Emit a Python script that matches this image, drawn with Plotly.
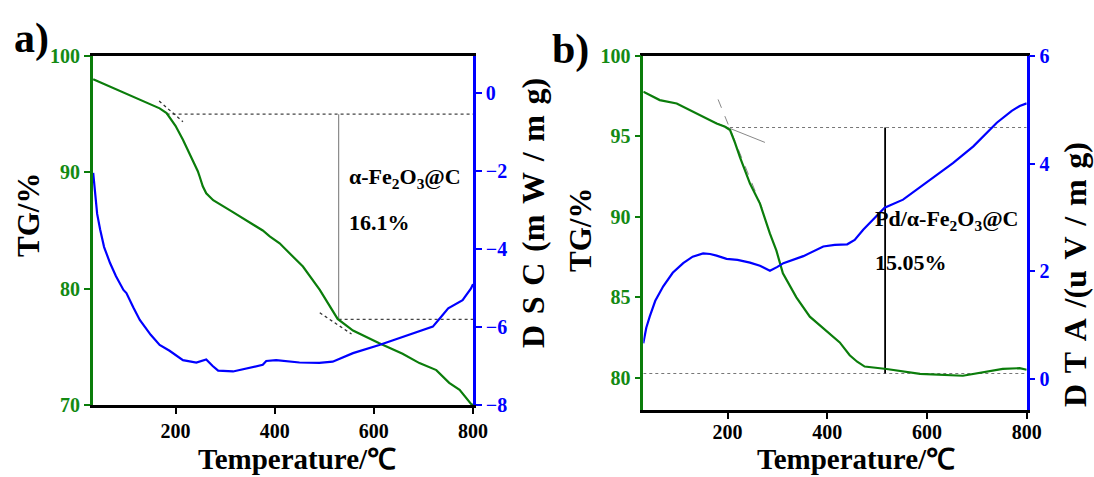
import plotly.graph_objects as go

W, H = 1094, 477
SERIF = "Liberation Serif"
GREEN = "#0b7d0b"
TICK_GREEN = "#138a13"
BLUE = "#0000ff"

# ---------------- panel a) : alpha-Fe2O3@C ----------------
tg_a_temp = [34, 42, 50, 81, 120, 168, 182, 200, 215, 229, 245, 249, 255, 262, 276, 315, 350, 376,
             390, 410, 424, 457, 491, 527, 558, 611, 658, 692, 726, 752, 773, 796, 800]
tg_a_val = [98.0, 97.85, 97.7, 97.1, 96.4, 95.5, 95.1, 94.0, 92.8, 91.6, 90.1, 89.6, 88.8, 88.2,
            87.6, 86.6, 85.7, 85.0, 84.5, 83.9, 83.3, 81.9, 79.9, 77.4, 76.4, 75.3, 74.4, 73.6,
            73.0, 71.9, 71.3, 70.1, 70.0]

dsc_a_temp = [34, 38, 42, 48, 56, 68, 80, 95, 101, 115, 128, 150, 168, 188, 215, 242, 262, 275,
              286, 316, 356, 376, 383, 403, 450, 490, 517, 558, 611, 658, 700, 719, 735, 750,
              779, 796, 800]
dsc_a_val = [-2.05, -2.6, -3.1, -3.5, -3.95, -4.36, -4.7, -5.05, -5.13, -5.5, -5.82, -6.2, -6.46,
             -6.61, -6.85, -6.91, -6.83, -7.0, -7.12, -7.14, -7.02, -6.97, -6.87, -6.85, -6.91,
             -6.92, -6.89, -6.67, -6.46, -6.25, -6.08, -5.99, -5.75, -5.52, -5.31, -5.01, -4.9]

# onset construction (TG %)
onset_hi_a = 95.0
onset_lo_a = 77.36
onset_hi_a_temp = 182
marker_a_temp = 529
tangent_a1_temp = [167, 215]
tangent_a1_val = [96.13, 94.35]
tangent_a2_temp = [491, 555]
tangent_a2_val = [77.93, 76.10]

# ---------------- panel b) : Pd/alpha-Fe2O3@C ----------------
tg_b_temp = [31, 64, 98, 138, 178, 195, 205, 215, 225, 245, 265, 285, 298, 311, 338, 365, 392,
             425, 445, 460, 475, 519, 586, 672, 752, 786, 800]
tg_b_val = [97.78, 97.26, 97.05, 96.43, 95.81, 95.6, 95.4, 94.6, 93.7, 92.07, 90.83, 88.96, 87.9,
            86.5, 85.0, 83.8, 83.1, 82.2, 81.4, 81.0, 80.7, 80.55, 80.24, 80.13, 80.55, 80.6, 80.5]

dta_b_temp = [31, 37, 44, 55, 71, 90, 111, 130, 151, 165, 178, 198, 220, 245, 265, 285, 300, 312,
              352, 392, 415, 440, 455, 472, 492, 515, 552, 606, 652, 693, 740, 770, 786, 800]
dta_b_val = [0.66, 0.95, 1.16, 1.45, 1.72, 1.97, 2.15, 2.27, 2.33, 2.32, 2.29, 2.23, 2.21, 2.16,
             2.10, 2.01, 2.08, 2.15, 2.28, 2.46, 2.49, 2.50, 2.58, 2.77, 2.96, 3.18, 3.33, 3.70,
             4.01, 4.32, 4.76, 4.98, 5.07, 5.12]

onset_hi_b = 95.56
onset_lo_b = 80.27
onset_hi_b_temp = 205
marker_b_temp = 516
tangent_b1_temp = [181, 271]
tangent_b1_val = [97.3, 90.41]
tangent_b2_temp = [170, 275]
tangent_b2_val = [95.93, 94.63]

# axis ranges / ticks
x_range_a = [33, 800]
x_range_b = [31, 800]
tg_range_a = [70, 100]
dsc_range_a = [-8, 0.95]
tg_range_b = [78, 100]
dta_range_b = [-0.58, 6]
x_ticks = [200, 400, 600, 800]
tg_ticks_a = [70, 80, 90, 100]
dsc_ticks_a = [-8, -6, -4, -2, 0]
tg_ticks_b = [80, 85, 90, 95, 100]
dta_ticks_b = [0, 2, 4, 6]

fig = go.Figure()


def line(x, y, xa, ya, color, width=2.2, dash="solid"):
    fig.add_trace(go.Scatter(x=x, y=y, xaxis=xa, yaxis=ya, mode="lines",
                             line=dict(color=color, width=width, dash=dash),
                             showlegend=False, hoverinfo="skip"))


# panel a guides
line([onset_hi_a_temp, 800], [onset_hi_a, onset_hi_a], "x", "y", "#444", 1.1, "dot")
line([marker_a_temp, 800], [onset_lo_a, onset_lo_a], "x", "y", "#444", 1.1, "dot")
line([marker_a_temp, marker_a_temp], [onset_lo_a, onset_hi_a], "x", "y", "#8a8a8a", 1.2)
line(tangent_a1_temp, tangent_a1_val, "x", "y", "#333", 1.3, "dot")
line(tangent_a2_temp, tangent_a2_val, "x", "y", "#333", 1.3, "dot")
# panel a curves
line(tg_a_temp, tg_a_val, "x", "y", GREEN)
line(dsc_a_temp, dsc_a_val, "x", "y2", BLUE)

# panel b guides
line([onset_hi_b_temp, 800], [onset_hi_b, onset_hi_b], "x2", "y3", "#777", 1.1, "dot")
line([x_range_b[0], 800], [onset_lo_b, onset_lo_b], "x2", "y3", "#777", 1.1, "dot")
line(tangent_b1_temp, tangent_b1_val, "x2", "y3", "#888", 1.0, "dash")
line(tangent_b2_temp, tangent_b2_val, "x2", "y3", "#888", 1.0)
line([marker_b_temp, marker_b_temp], [onset_lo_b, onset_hi_b], "x2", "y3", "black", 1.8)
# panel b curves
line(tg_b_temp, tg_b_val, "x2", "y3", GREEN)
line(dta_b_temp, dta_b_val, "x2", "y4", BLUE)


def tickfont(c):
    return dict(family=SERIF, size=20, color=c, weight="bold")


def xaxis(domain, rng, anchor, standoff=0):
    return dict(domain=domain, range=rng, anchor=anchor, tickvals=x_ticks, ticks="outside",
                ticklen=6, tickwidth=2, tickcolor="black", showline=True, linecolor="black",
                linewidth=2.5, mirror=True, showgrid=False, zeroline=False, automargin=False,
                ticklabelstandoff=standoff, tickfont=tickfont("black"))


def yaxis(rng, ticks, color, tcolor, anchor, side="left", domain=None, overlaying=None):
    d = dict(range=rng, tickvals=ticks, ticks="outside", ticklen=6, tickwidth=2,
             tickcolor=color, showline=True, linecolor=color, linewidth=2.5, showgrid=False,
             zeroline=False, automargin=False, tickfont=tickfont(tcolor), anchor=anchor,
             side=side)
    if domain is not None:
        d["domain"] = domain
    if overlaying is not None:
        d["overlaying"] = overlaying
    return d


dom_xa = [92.7 / W, 473.0 / W]
dom_xb = [643.3 / W, 1026.7 / W]
dom_ya = [1 - 405.0 / H, 1 - 56.0 / H]
dom_yb = [1 - 410.0 / H, 1 - 56.0 / H]

fig.update_layout(
    width=W, height=H, margin=dict(l=0, r=0, t=0, b=0, autoexpand=False),
    paper_bgcolor="white", plot_bgcolor="white",
    font=dict(family=SERIF, color="black"),
    xaxis=xaxis(dom_xa, x_range_a, "y"),
    yaxis=yaxis(tg_range_a, tg_ticks_a, GREEN, TICK_GREEN, "x", domain=dom_ya),
    yaxis2=yaxis(dsc_range_a, dsc_ticks_a, BLUE, BLUE, "x", side="right", overlaying="y"),
    xaxis2=xaxis(dom_xb, x_range_b, "y3", standoff=-4),
    yaxis3=yaxis(tg_range_b, tg_ticks_b, GREEN, TICK_GREEN, "x2", domain=dom_yb),
    yaxis4=yaxis(dta_range_b, dta_ticks_b, BLUE, BLUE, "x2", side="right", overlaying="y3"),
)


def text(s, px, py, size, angle=0, xanchor="center", yanchor="middle"):
    fig.add_annotation(text=s, x=px / W, y=1 - py / H, xref="paper", yref="paper",
                       showarrow=False, xanchor=xanchor, yanchor=yanchor, textangle=angle,
                       font=dict(family=SERIF, size=size, color="black", weight="bold"))


SP = "\u2004"  # spaced-out lettering for the right-hand axis titles

# panel letters
text("a)", 31, 39, 42)
text("b)", 570, 49, 42)

# axis titles (bottom edge of the figure)
text("Temperature/℃", 297, H, 29, yanchor="bottom")
text("Temperature/℃", 856, H, 29, yanchor="bottom")
text("TG/%", 28, 215, 31, angle=-90)
text("TG/%", 581, 230, 31, angle=-90)
text(SP.join("DSC") + SP + "(m" + SP + "W" + SP + "/" + SP + "m" + SP + "g)", 533, 213, 32, angle=-90)
text(SP.join("DTA") + SP + "/(u" + SP + "V" + SP + "/" + SP + "m" + SP + "g)", 1075, 275, 32, angle=-90)

# sample labels with mass loss
text("α-Fe<sub>2</sub>O<sub>3</sub>@C", 347, 178, 22, xanchor="left")
text("16.1%", 347, 222, 22, xanchor="left")
text("Pd/α-Fe<sub>2</sub>O<sub>3</sub>@C", 873, 220, 22, xanchor="left")
text("15.05%", 873, 262, 22, xanchor="left")

fig.write_html("out.html")
